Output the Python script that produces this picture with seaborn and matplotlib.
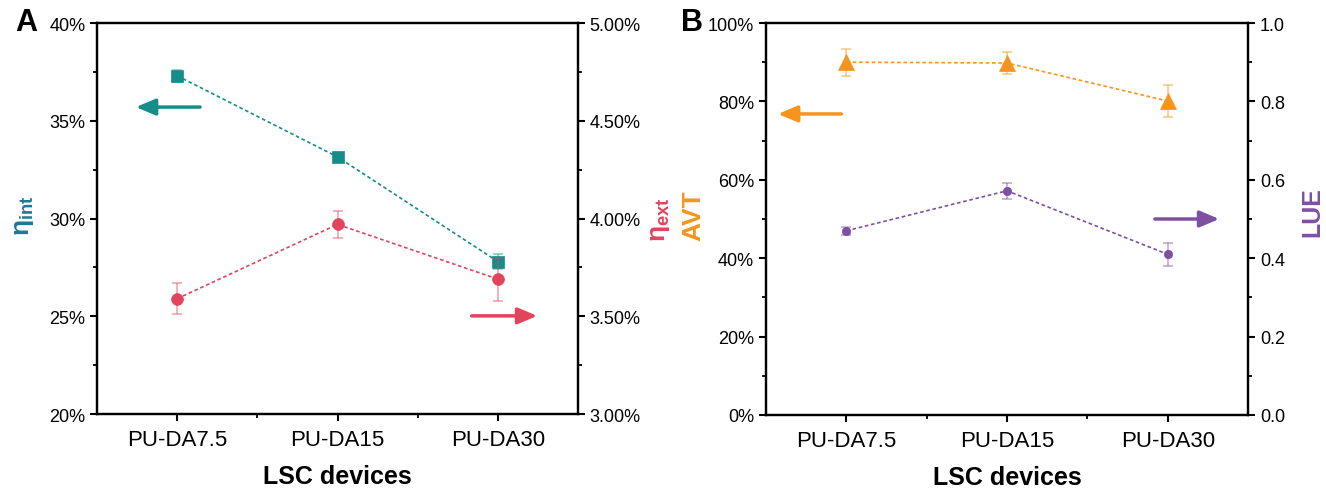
import numpy as np
import pandas as pd
import matplotlib
matplotlib.use('Agg')
import matplotlib.pyplot as plt
from matplotlib.ticker import MultipleLocator, FixedLocator, FuncFormatter
import seaborn as sns

# --- data ---
devices = ['PU-DA7.5', 'PU-DA15', 'PU-DA30']

eta_int = [37.3, 33.15, 27.8]      # %
eta_int_err = [0.3, 0.15, 0.4]
eta_ext = [3.59, 3.97, 3.69]       # %
eta_ext_err = [0.08, 0.07, 0.11]

avt = [90.0, 89.8, 80.1]           # %
avt_err = [3.4, 2.9, 4.2]
lue = [0.47, 0.572, 0.41]
lue_err = [0.01, 0.02, 0.03]

TEAL = '#178d8a'
TEAL_LBL = '#1c7a94'
RED = '#e2445c'
ORANGE = '#f7941d'
PURPLE = '#7e4fa3'

sns.set_style('ticks')
plt.rcParams['font.family'] = ['Liberation Sans', 'DejaVu Sans']
plt.rcParams['mathtext.fontset'] = 'custom'
plt.rcParams['mathtext.rm'] = 'Liberation Sans'
plt.rcParams['mathtext.bf'] = 'Liberation Sans:bold'
for k in ['text.color', 'axes.labelcolor', 'xtick.color', 'ytick.color', 'axes.edgecolor']:
    plt.rcParams[k] = 'black'

dfA = pd.DataFrame({'device': devices, 'eta_int': eta_int, 'eta_ext': eta_ext})
dfB = pd.DataFrame({'device': devices, 'avt': avt, 'lue': lue})

fig = plt.figure(figsize=(13.26, 4.89), dpi=100)
axA = fig.add_axes([0.0732, 0.1513, 0.3627, 0.7996])
axB = fig.add_axes([0.5777, 0.1493, 0.3635, 0.8016])

dash = (0, (2.2, 1.6))


def series(ax, df, col, err, color, marker, ms):
    sns.lineplot(data=df, x='device', y=col, ax=ax, color=color, marker=marker,
                 markersize=ms, markeredgecolor=color, markeredgewidth=0.5,
                 linestyle=dash, linewidth=1.2, sort=False)
    ax.errorbar(df['device'], df[col], yerr=err, fmt='none', ecolor=color,
                alpha=0.45, capsize=3.5, elinewidth=1.3, capthick=1.3, zorder=1)


def style_axes(ax, side):
    for s in ax.spines.values():
        s.set_linewidth(1.6)
    ax.tick_params(axis='both', which='major', direction='out', length=5, width=1.5,
                   labelsize=13, colors='black')
    ax.tick_params(axis='both', which='minor', direction='out', length=3, width=1.3)
    ax.tick_params(axis='x', labelsize=16, pad=6)
    ax.tick_params(top=False, which='both')
    if side == 'left':
        ax.tick_params(right=False, which='both')


# ---------- panel A ----------
axA2 = axA.twinx()
series(axA, dfA, 'eta_int', eta_int_err, TEAL, 's', 8.5)
series(axA2, dfA, 'eta_ext', eta_ext_err, RED, 'o', 8.5)

axA.set_ylim(20, 40)
axA.yaxis.set_major_locator(MultipleLocator(5))
axA.yaxis.set_minor_locator(MultipleLocator(2.5))
axA.yaxis.set_major_formatter(FuncFormatter(lambda v, p: f'{v:.0f}%'))
axA2.set_ylim(3.0, 5.0)
axA2.yaxis.set_major_locator(MultipleLocator(0.5))
axA2.yaxis.set_minor_locator(MultipleLocator(0.25))
axA2.yaxis.set_major_formatter(FuncFormatter(lambda v, p: f'{v:.2f}%'))

axA.set_ylabel(r'η$_{\mathbf{int}}$', color=TEAL_LBL, fontsize=19, fontweight='bold')
axA.yaxis.set_label_coords(-0.128, 0.51)
axA2.set_ylabel(r'η$_{\mathbf{ext}}$', color=RED, fontsize=19, fontweight='bold')
axA2.yaxis.set_label_coords(1.146, 0.50)

arrow = '-|>,head_length=0.9,head_width=0.38'
axA.annotate('', xy=(0.075, 0.785), xytext=(0.22, 0.785), xycoords='axes fraction',
             arrowprops=dict(arrowstyle=arrow, lw=2.5, color=TEAL, mutation_scale=13))
axA.annotate('', xy=(0.921, 0.251), xytext=(0.773, 0.251), xycoords='axes fraction',
             arrowprops=dict(arrowstyle=arrow, lw=2.5, color=RED, mutation_scale=13))

# ---------- panel B ----------
axB2 = axB.twinx()
series(axB, dfB, 'avt', avt_err, ORANGE, '^', 11)
series(axB2, dfB, 'lue', lue_err, PURPLE, 'o', 6)

axB.set_ylim(0, 100)
axB.yaxis.set_major_locator(MultipleLocator(20))
axB.yaxis.set_minor_locator(MultipleLocator(10))
axB.yaxis.set_major_formatter(FuncFormatter(lambda v, p: f'{v:.0f}%'))
axB2.set_ylim(0, 1.0)
axB2.yaxis.set_major_locator(MultipleLocator(0.2))
axB2.yaxis.set_minor_locator(MultipleLocator(0.1))
axB2.yaxis.set_major_formatter(FuncFormatter(lambda v, p: f'{v:.1f}'))

axB.set_ylabel('AVT', color=ORANGE, fontsize=19, fontweight='bold')
axB.yaxis.set_label_coords(-0.125, 0.51)
axB2.set_ylabel('LUE', color=PURPLE, fontsize=18, fontweight='bold')
axB2.yaxis.set_label_coords(1.108, 0.52)

axB.annotate('', xy=(0.019, 0.768), xytext=(0.162, 0.768), xycoords='axes fraction',
             arrowprops=dict(arrowstyle=arrow, lw=2.5, color=ORANGE, mutation_scale=13))
axB.annotate('', xy=(0.946, 0.50), xytext=(0.801, 0.50), xycoords='axes fraction',
             arrowprops=dict(arrowstyle=arrow, lw=2.5, color=PURPLE, mutation_scale=13))

for ax, ax2 in [(axA, axA2), (axB, axB2)]:
    ax.set_xlim(-0.5, 2.5)
    ax.xaxis.set_minor_locator(FixedLocator([0.5, 1.5]))
    ax.set_xlabel('LSC devices', fontsize=18, fontweight='bold', labelpad=10)
    style_axes(ax, 'left')
    style_axes(ax2, 'right')
    ax2.tick_params(axis='y', which='both', left=False)
    ax2.tick_params(axis='x', which='both', bottom=False, labelbottom=False)
    ax.grid(False)
    ax2.grid(False)

fig.text(15 / 1326, 1 - 8 / 489, 'A', fontsize=22, fontweight='bold', va='top', ha='left')
fig.text(681 / 1326, 1 - 8 / 489, 'B', fontsize=22, fontweight='bold', va='top', ha='left')

fig.savefig('out.png', dpi=100)
